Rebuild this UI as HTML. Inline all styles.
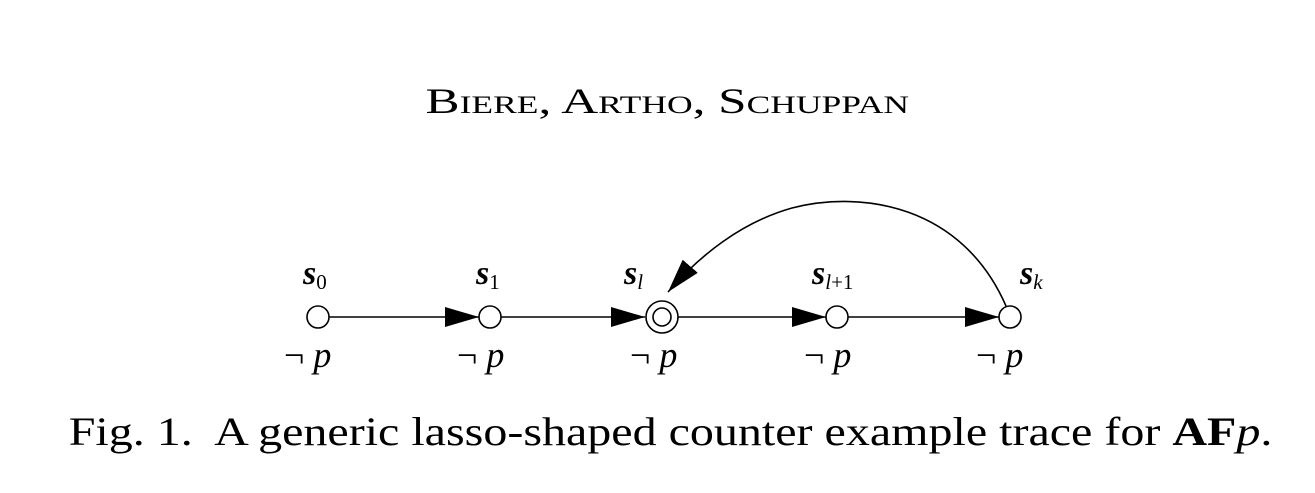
<!DOCTYPE html>
<html><head><meta charset="utf-8"><style>
html,body{margin:0;padding:0;background:#fff;}
body{width:1315px;height:493px;overflow:hidden;position:relative;font-family:"Liberation Serif",serif;}
.t{position:absolute;white-space:nowrap;color:#000;}
</style></head><body>
<div class="t" style="left:10px;width:1315px;text-align:center;top:80px;font-size:36px;font-variant:small-caps;"><span style="display:inline-block;transform:scaleX(1.42);transform-origin:center;">Biere, Artho, Schuppan</span></div>
<svg width="1315" height="493" style="position:absolute;left:0;top:0" font-family="Liberation Serif, serif">
<defs><marker id="ah" markerWidth="34" markerHeight="20" refX="34" refY="10" orient="auto" markerUnits="userSpaceOnUse"><path d="M0,0 L34,10 L0,20 Z" fill="#000"/></marker></defs>
<g stroke="#000" stroke-width="1.6" fill="none">
<line x1="329" y1="317" x2="479" y2="317" marker-end="url(#ah)"/>
<line x1="501" y1="317" x2="645" y2="317" marker-end="url(#ah)"/>
<line x1="678" y1="317" x2="826" y2="317" marker-end="url(#ah)"/>
<line x1="848" y1="317" x2="999" y2="317" marker-end="url(#ah)"/>
<path d="M1006,306 C962,205 862,190 792,208 C742,222 700,255 668,292" marker-end="url(#ah)"/>
<circle cx="318" cy="317" r="11"/>
<circle cx="490" cy="317" r="11"/>
<circle cx="662" cy="317" r="16"/>
<circle cx="662" cy="317" r="9"/>
<circle cx="837" cy="317" r="11"/>
<circle cx="1010" cy="317" r="11"/>
</g>
<g font-style="italic" font-weight="bold" font-size="34" fill="#000">
<text x="303" y="284">s<tspan font-size="21" font-weight="normal" font-style="normal" dy="5">0</tspan></text>
<text x="476" y="284">s<tspan font-size="21" font-weight="normal" font-style="normal" dy="5">1</tspan></text>
<text x="624" y="284">s<tspan font-size="21" font-weight="normal" dy="5">l</tspan></text>
<text x="812" y="284">s<tspan font-size="21" font-weight="normal" dy="5">l</tspan><tspan font-size="21" font-weight="normal" font-style="normal">+1</tspan></text>
<text x="1020" y="284">s<tspan font-size="21" font-weight="normal" dy="5">k</tspan></text>
</g>
<g font-size="36" fill="#000">
<text x="284" y="367">¬ <tspan font-style="italic">p</tspan></text>
<text x="457" y="367">¬ <tspan font-style="italic">p</tspan></text>
<text x="630" y="367">¬ <tspan font-style="italic">p</tspan></text>
<text x="804" y="367">¬ <tspan font-style="italic">p</tspan></text>
<text x="976" y="367">¬ <tspan font-style="italic">p</tspan></text>
</g>
</svg>
<div class="t" style="left:13px;width:1315px;text-align:center;top:408px;font-size:40px;"><span style="display:inline-block;transform:scaleX(1.2);transform-origin:center;">Fig. 1.&nbsp; A generic lasso-shaped counter example trace for <b>AF</b><i>p</i>.</span></div>
</body></html>
